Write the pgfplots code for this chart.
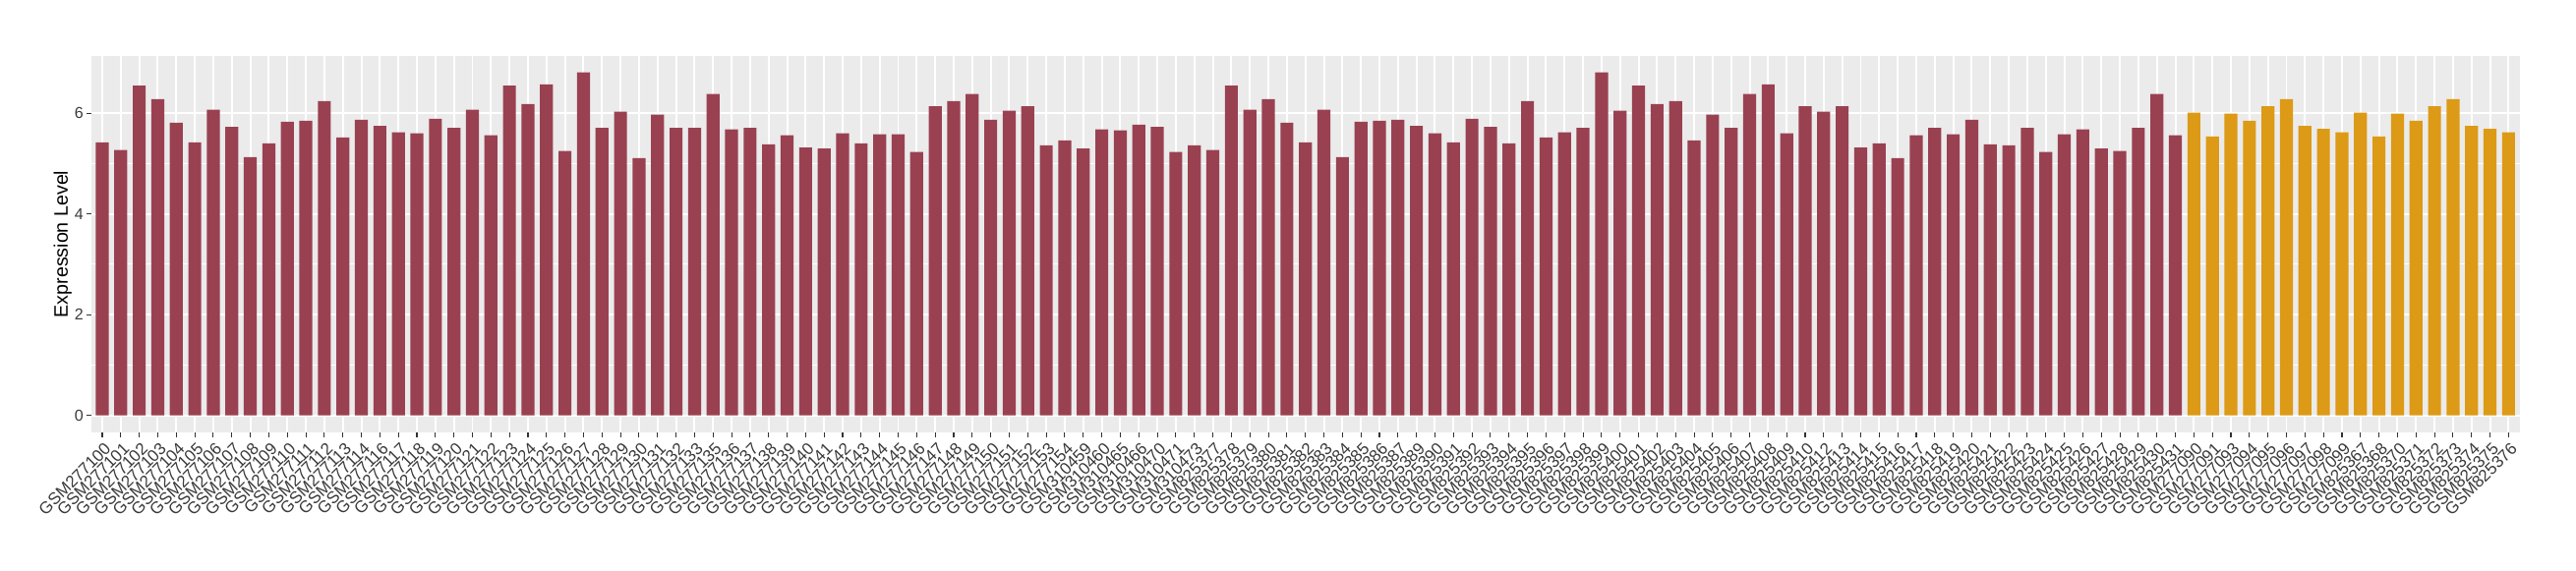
\documentclass[border=0pt]{standalone}
\usepackage{fontspec}
\setmainfont{Liberation Sans}
\usepackage{pgfplots}
\pgfplotsset{compat=1.18}
\definecolor{barred}{HTML}{9A4151}
\definecolor{barorange}{HTML}{DC9A16}
\definecolor{ggbg}{HTML}{EBEBEB}
\definecolor{gg30}{HTML}{3A3A3A}
\definecolor{gg20}{HTML}{333333}
\begin{document}
\begin{tikzpicture}
\begin{axis}[
  scale only axis,
  width=1383.2pt, height=214.65pt,
  xmin=-0.6, xmax=130.6,
  ymin=-0.34, ymax=7.14,
  ybar, bar width=0.7,
  axis background/.style={fill=ggbg},
  axis line style={draw=none},
  tick pos=left,
  xtick={0,...,130},
  xticklabels={GSM277100,GSM277101,GSM277102,GSM277103,GSM277104,GSM277105,GSM277106,GSM277107,GSM277108,GSM277109,GSM277110,GSM277111,GSM277112,GSM277113,GSM277114,GSM277116,GSM277117,GSM277118,GSM277119,GSM277120,GSM277121,GSM277122,GSM277123,GSM277124,GSM277125,GSM277126,GSM277127,GSM277128,GSM277129,GSM277130,GSM277131,GSM277132,GSM277133,GSM277135,GSM277136,GSM277137,GSM277138,GSM277139,GSM277140,GSM277141,GSM277142,GSM277143,GSM277144,GSM277145,GSM277146,GSM277147,GSM277148,GSM277149,GSM277150,GSM277151,GSM277152,GSM277153,GSM277154,GSM310459,GSM310460,GSM310465,GSM310466,GSM310470,GSM310471,GSM310473,GSM825377,GSM825378,GSM825379,GSM825380,GSM825381,GSM825382,GSM825383,GSM825384,GSM825385,GSM825386,GSM825387,GSM825389,GSM825390,GSM825391,GSM825392,GSM825393,GSM825394,GSM825395,GSM825396,GSM825397,GSM825398,GSM825399,GSM825400,GSM825401,GSM825402,GSM825403,GSM825404,GSM825405,GSM825406,GSM825407,GSM825408,GSM825409,GSM825410,GSM825412,GSM825413,GSM825414,GSM825415,GSM825416,GSM825417,GSM825418,GSM825419,GSM825420,GSM825421,GSM825422,GSM825423,GSM825424,GSM825425,GSM825426,GSM825427,GSM825428,GSM825429,GSM825430,GSM825431,GSM277090,GSM277091,GSM277093,GSM277094,GSM277095,GSM277096,GSM277097,GSM277098,GSM277099,GSM825367,GSM825368,GSM825370,GSM825371,GSM825372,GSM825373,GSM825374,GSM825375,GSM825376},
  ytick={0,2,4,6},
  minor ytick={1,3,5},
  xmajorgrids=true, ymajorgrids=true, yminorgrids=true,
  major grid style={white, line width=1.1pt},
  minor grid style={white, line width=0.55pt},
  tick align=outside,
  major tick length=2.75pt,
  minor tick length=0pt,
  tick style={gg20, line width=0.6pt},
  x tick label style={rotate=45, anchor=north east, font=\fontsize{9.5}{11}\selectfont, text=gg30, inner sep=1pt, yshift=-1pt},
  y tick label style={font=\fontsize{9}{10}\selectfont, text=gg30, inner sep=1.5pt},
  /pgf/number format/assume math mode=true,
  ylabel={Expression Level},
  every axis y label/.style={at={([xshift=-10.9pt]rel axis cs:0,0.5)}, rotate=90, anchor=south, inner sep=0pt, font=\fontsize{11}{13}\selectfont},
]
\addplot[fill=barred, draw=none, bar shift=0pt] coordinates {
(0,5.42) (1,5.27) (2,6.55) (3,6.28) (4,5.81) (5,5.42) (6,6.07) (7,5.73) (8,5.13) (9,5.40)
(10,5.83) (11,5.85) (12,6.24) (13,5.52) (14,5.87) (15,5.75) (16,5.62) (17,5.60) (18,5.89) (19,5.71)
(20,6.07) (21,5.56) (22,6.55) (23,6.18) (24,6.57) (25,5.25) (26,6.81) (27,5.71) (28,6.03) (29,5.11)
(30,5.97) (31,5.71) (32,5.71) (33,6.38) (34,5.68) (35,5.71) (36,5.38) (37,5.56) (38,5.32) (39,5.30)
(40,5.60) (41,5.40) (42,5.58) (43,5.58) (44,5.23) (45,6.14) (46,6.24) (47,6.38) (48,5.87) (49,6.05)
(50,6.14) (51,5.36) (52,5.46) (53,5.30) (54,5.68) (55,5.66) (56,5.77) (57,5.73) (58,5.23) (59,5.36)
(60,5.27) (61,6.55) (62,6.07) (63,6.28) (64,5.81) (65,5.42) (66,6.07) (67,5.13) (68,5.83) (69,5.85)
(70,5.87) (71,5.75) (72,5.60) (73,5.42) (74,5.89) (75,5.73) (76,5.40) (77,6.24) (78,5.52) (79,5.62)
(80,5.71) (81,6.81) (82,6.05) (83,6.55) (84,6.18) (85,6.24) (86,5.46) (87,5.97) (88,5.71) (89,6.38)
(90,6.57) (91,5.60) (92,6.14) (93,6.03) (94,6.14) (95,5.32) (96,5.40) (97,5.11) (98,5.56) (99,5.71)
(100,5.58) (101,5.87) (102,5.38) (103,5.36) (104,5.71) (105,5.23) (106,5.58) (107,5.68) (108,5.30) (109,5.25)
(110,5.71) (111,6.38) (112,5.56)
};
\addplot[fill=barorange, draw=none, bar shift=0pt] coordinates {
(113,6.01) (114,5.54) (115,5.99) (116,5.85) (117,6.14) (118,6.28) (119,5.75) (120,5.69) (121,5.62)
(122,6.01) (123,5.54) (124,5.99) (125,5.85) (126,6.14) (127,6.28) (128,5.75) (129,5.69) (130,5.62)
};
\coordinate (sw) at (rel axis cs:0,0);
\coordinate (ne) at (rel axis cs:1,1);
\end{axis}
\pgfresetboundingbox
\path[use as bounding box] ([shift={(-51.9pt,-78.4pt)}]sw) rectangle ([shift={(32.1pt,31.8pt)}]ne);
\end{tikzpicture}
\end{document}
